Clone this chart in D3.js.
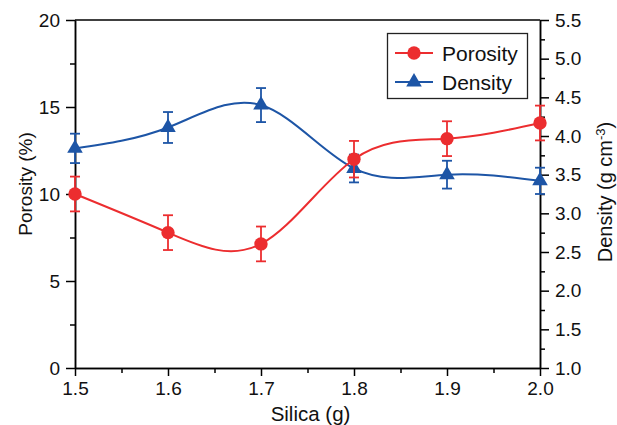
<!DOCTYPE html>
<html>
<head>
<meta charset="utf-8">
<script src="https://cdn.jsdelivr.net/npm/d3@7"></script>
<style>
  html, body { margin: 0; padding: 0; background: #fff; }
  svg { display: block; font-family: "Liberation Sans", Arial, sans-serif; }
  .axis path, .axis line { stroke: #000; stroke-width: 1.5; }
</style>
</head>
<body>
<svg id="chart" width="617" height="425"></svg>
<script>
// Silica loading (g)
const silica = [1.5, 1.6, 1.7, 1.8, 1.9, 2.0];
// Porosity (%) and its error
const porosity = [10.0, 7.78, 7.13, 12.0, 13.18, 14.08];
const porosityErr = [1.0, 1.0, 1.0, 1.05, 1.0, 1.0];
// Density (g cm^-3) and its error
const density = [3.84, 4.11, 4.40, 3.58, 3.50, 3.42];
const densityErr = [0.19, 0.2, 0.22, 0.18, 0.18, 0.17];

// Tick values
const xTicks = [1.5, 1.6, 1.7, 1.8, 1.9, 2.0];
const xMinor = [1.55, 1.65, 1.75, 1.85, 1.95];
const leftTicks = [0, 5, 10, 15, 20];
const leftMinor = [2.5, 7.5, 12.5, 17.5];
const rightTicks = [1.0, 1.5, 2.0, 2.5, 3.0, 3.5, 4.0, 4.5, 5.0, 5.5];
const rightMinor = [1.25, 1.75, 2.25, 2.75, 3.25, 3.75, 4.25, 4.75, 5.25];

const RED = "#ec2d2f";
const BLUE = "#1d55a6";
const FONT = "'Liberation Sans', Arial, sans-serif";

const svg = d3.select("#chart");
const L = 75, R = 540, T = 20, B = 368;

const x = d3.scaleLinear().domain([1.5, 2.0]).range([L, R]);
const yL = d3.scaleLinear().domain([0, 20]).range([B, T]);
const yR = d3.scaleLinear().domain([1.0, 5.5]).range([B, T]);

// Top frame line
svg.append("line").attr("x1", L).attr("x2", R).attr("y1", T).attr("y2", T)
  .attr("stroke", "#000").attr("stroke-width", 1.5);

function styleTicks(g) {
  g.selectAll("text").attr("font-size", 19).attr("font-family", FONT).attr("fill", "#111");
}

// Minor ticks
svg.append("g").attr("class", "axis").attr("transform", `translate(0,${B})`)
  .call(d3.axisBottom(x).tickValues(xMinor).tickSize(5).tickSizeOuter(0).tickFormat(""));
svg.append("g").attr("class", "axis").attr("transform", `translate(${L},0)`)
  .call(d3.axisLeft(yL).tickValues(leftMinor).tickSize(5).tickSizeOuter(0).tickFormat(""));
svg.append("g").attr("class", "axis").attr("transform", `translate(${R},0)`)
  .call(d3.axisRight(yR).tickValues(rightMinor).tickSize(5).tickSizeOuter(0).tickFormat(""));

// Major axes
svg.append("g").attr("class", "axis").attr("transform", `translate(0,${B})`)
  .call(d3.axisBottom(x).tickValues(xTicks).tickSize(8).tickSizeOuter(0).tickPadding(5.5).tickFormat(d3.format(".1f")))
  .call(styleTicks);
svg.append("g").attr("class", "axis").attr("transform", `translate(${L},0)`)
  .call(d3.axisLeft(yL).tickValues(leftTicks).tickSize(9).tickSizeOuter(0).tickPadding(6).tickFormat(d3.format("d")))
  .call(styleTicks);
svg.append("g").attr("class", "axis").attr("transform", `translate(${R},0)`)
  .call(d3.axisRight(yR).tickValues(rightTicks).tickSize(9).tickSizeOuter(0).tickPadding(6).tickFormat(d3.format(".1f")))
  .call(styleTicks);

// Axis titles
svg.append("text").attr("x", (L + R) / 2 + 3).attr("y", 420.5)
  .attr("text-anchor", "middle").attr("font-size", 20.5).attr("fill", "#111")
  .text("Silica (g)");
svg.append("text").attr("transform", `translate(32,${(T + B) / 2 - 10}) rotate(-90)`)
  .attr("text-anchor", "middle").attr("font-size", 19).attr("fill", "#111")
  .text("Porosity (%)");
const rt = svg.append("text").attr("transform", `translate(612,${(T + B) / 2 - 2}) rotate(-90)`)
  .attr("text-anchor", "middle").attr("font-size", 20).attr("fill", "#111");
rt.append("tspan").text("Density (g cm");
rt.append("tspan").attr("dy", -7).attr("font-size", 13).text("-3");
rt.append("tspan").attr("dy", 7).text(")");

// Series
function drawSeries(vals, errs, yScale, color, shape) {
  const pts = silica.map((s, i) => ({ s, v: vals[i], e: errs[i] }));
  const g = svg.append("g");
  g.append("path").datum(pts)
    .attr("fill", "none").attr("stroke", color).attr("stroke-width", 2)
    .attr("d", d3.line().x(d => x(d.s)).y(d => yScale(d.v)).curve(d3.curveNatural));
  const eb = g.selectAll(".eb").data(pts).join("g").attr("stroke", color).attr("stroke-width", 1.8);
  eb.append("line").attr("x1", d => x(d.s)).attr("x2", d => x(d.s))
    .attr("y1", d => yScale(d.v - d.e)).attr("y2", d => yScale(d.v + d.e));
  eb.append("line").attr("x1", d => x(d.s) - 5).attr("x2", d => x(d.s) + 5)
    .attr("y1", d => yScale(d.v + d.e)).attr("y2", d => yScale(d.v + d.e));
  eb.append("line").attr("x1", d => x(d.s) - 5).attr("x2", d => x(d.s) + 5)
    .attr("y1", d => yScale(d.v - d.e)).attr("y2", d => yScale(d.v - d.e));
  g.selectAll(".m").data(pts).join("path")
    .attr("transform", d => `translate(${x(d.s)},${yScale(d.v)})`)
    .attr("d", d3.symbol().type(shape).size(shape === d3.symbolCircle ? 140 : 105))
    .attr("fill", color);
}
drawSeries(density, densityErr, yR, BLUE, d3.symbolTriangle);
drawSeries(porosity, porosityErr, yL, RED, d3.symbolCircle);

// Legend
const lg = svg.append("g");
lg.append("rect").attr("x", 387.5).attr("y", 33.5).attr("width", 140).attr("height", 65)
  .attr("fill", "#fff").attr("stroke", "#222").attr("stroke-width", 1.3);
const legendItems = [
  { name: "Porosity", color: RED, shape: d3.symbolCircle, y: 53 },
  { name: "Density", color: BLUE, shape: d3.symbolTriangle, y: 82 }
];
legendItems.forEach(it => {
  lg.append("line").attr("x1", 395).attr("x2", 433).attr("y1", it.y).attr("y2", it.y)
    .attr("stroke", it.color).attr("stroke-width", 2);
  lg.append("path").attr("transform", `translate(414,${it.y})`)
    .attr("d", d3.symbol().type(it.shape).size(it.shape === d3.symbolCircle ? 140 : 105))
    .attr("fill", it.color);
  lg.append("text").attr("x", 442).attr("y", it.y + 7.5).attr("font-size", 21).attr("fill", "#111")
    .text(it.name);
});
</script>
</body>
</html>
